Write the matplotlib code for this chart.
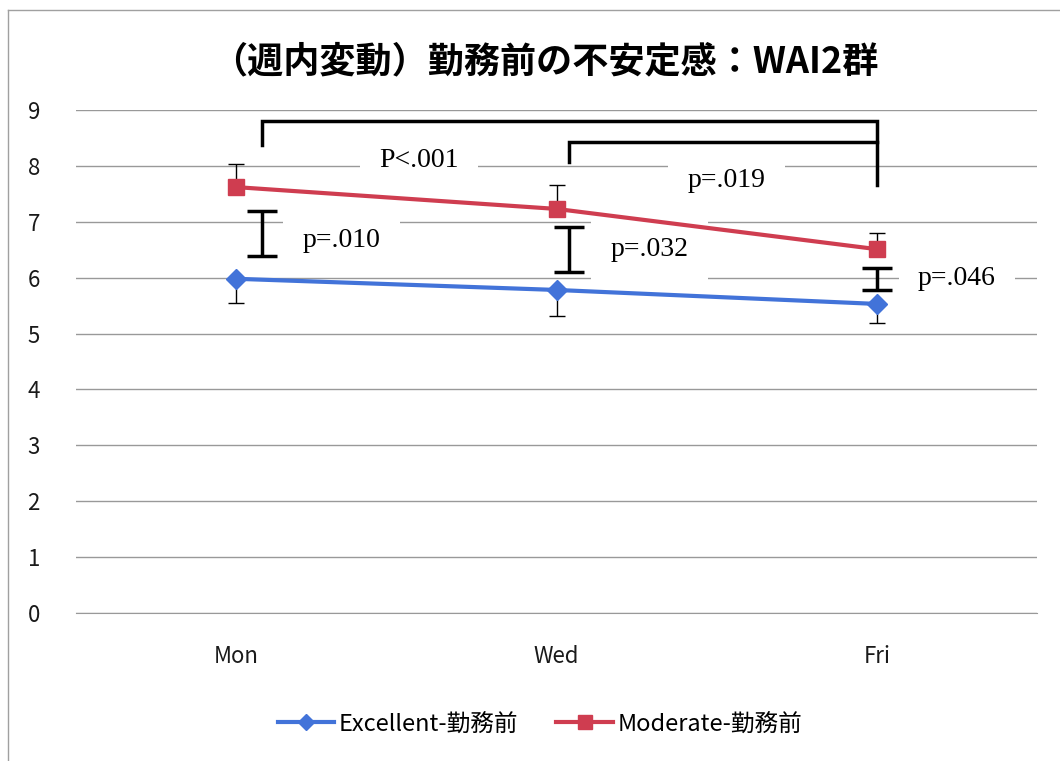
import numpy as np
import matplotlib.pyplot as plt
from matplotlib.lines import Line2D

plt.rcParams['font.family'] = ['Noto Sans CJK JP', 'DejaVu Sans']

# ---------- data ----------
days = ["Mon", "Wed", "Fri"]
excellent = [5.98, 5.78, 5.53]
excellent_sd = [0.43, 0.47, 0.34]      # only lower whisker shown
moderate = [7.62, 7.23, 6.51]
moderate_sd = [0.42, 0.43, 0.29]       # only upper whisker shown

# between-group tests (x offset, low, high, label, label x, label y)
grp_x = [0.08, 1.04, 2.0]
grp_lo = [6.39, 6.10, 5.78]
grp_hi = [7.19, 6.91, 6.17]
grp_labels = ["p=.010", "p=.032", "p=.046"]
grp_lab_x = [0.33, 1.29, 2.25]
grp_lab_y = [6.67, 6.51, 5.99]

# within-group brackets
br_left = [0.08, 1.04]
br_right = [2.0, 2.0]
br_top = [8.80, 8.43]
br_left_end = [8.37, 8.07]
br_right_end = [7.66, 8.43]
br_labels = ["P<.001", "p=.019"]
br_lab_x = [0.57, 1.53]
br_lab_y = [8.10, 7.73]

blue = "#4273D9"
red = "#CF3D50"

fig = plt.figure(figsize=(10.6, 7.61), dpi=100)
ax = fig.add_axes([76 / 1060, 1 - 613 / 761, (1037 - 76) / 1060, (613 - 110) / 761])

x = np.arange(len(days))

# whiskers
ax.errorbar(x, excellent, yerr=[excellent_sd, np.zeros(3)], fmt="none",
            ecolor="black", elinewidth=1, capsize=6, capthick=1, zorder=2)
ax.errorbar(x, moderate, yerr=[np.zeros(3), moderate_sd], fmt="none",
            ecolor="black", elinewidth=1, capsize=6, capthick=1, zorder=2)

ax.plot(x, excellent, color=blue, lw=3, marker="D", ms=10, zorder=4,
        label="Excellent-勤務前")
ax.plot(x, moderate, color=red, lw=3, marker="s", ms=12, zorder=4,
        label="Moderate-勤務前")

# group difference I-bars
for gx, lo, hi in zip(grp_x, grp_lo, grp_hi):
    ax.errorbar([gx], [(lo + hi) / 2], yerr=[(hi - lo) / 2], fmt="none",
                ecolor="black", elinewidth=2.5, capsize=11, capthick=2.5, zorder=3)

# brackets
for l, r, t, le, re in zip(br_left, br_right, br_top, br_left_end, br_right_end):
    ax.plot([l, l, r, r], [le, t, t, re], color="black", lw=2.5,
            solid_joinstyle="miter", zorder=3)

serif = ["Liberation Serif", "DejaVu Serif"]
box = dict(facecolor="white", edgecolor="none", boxstyle="square,pad=0.7")
for lab, lx, ly in zip(grp_labels + br_labels, grp_lab_x + br_lab_x, grp_lab_y + br_lab_y):
    ax.text(lx, ly, lab, family=serif, fontsize=20, ha="center", va="center",
            bbox=box, zorder=3)

ax.set_xlim(-0.5, 2.5)
ax.set_ylim(0, 9)
ax.set_yticks(range(0, 10))
ax.set_xticks(x)
ax.set_xticklabels(days)
ax.yaxis.grid(True, color="#999999", lw=1)
ax.set_axisbelow(True)
for s in ["top", "right", "left"]:
    ax.spines[s].set_visible(False)
ax.spines["bottom"].set_color("#999999")
ax.tick_params(axis="both", length=0, labelsize=16, labelcolor="#1a1a1a")
ax.tick_params(axis="y", pad=26)
ax.tick_params(axis="x", pad=23)

ax.set_title("（週内変動）勤務前の不安定感：WAI2群", fontsize=26,
             fontweight="bold", pad=27, x=(545 - 76) / 961)

fig.legend(loc="center", bbox_to_anchor=(540 / 1060, 1 - 724 / 761), ncol=2,
           frameon=False, fontsize=17, handlelength=2.4, columnspacing=1.6,
           handletextpad=0.2, markerscale=0.85)

# chart frame
fig.add_artist(Line2D([8 / 1060, 1.0], [1 - 10 / 761] * 2, color="#a0a0a0", lw=1))
fig.add_artist(Line2D([8 / 1060] * 2, [0, 1 - 10 / 761], color="#a0a0a0", lw=1))

fig.savefig("out.png", dpi=100)
